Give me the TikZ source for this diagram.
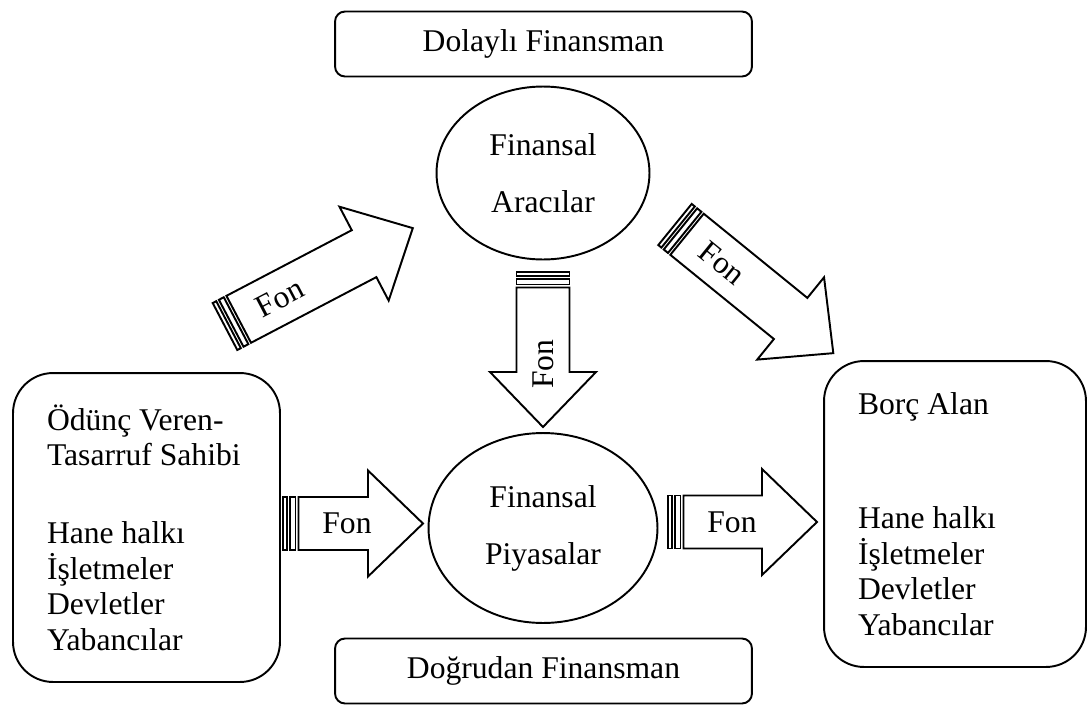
\documentclass[tikz,border=0pt]{standalone}
\usepackage{fontspec}
\setmainfont{Liberation Serif}
\usetikzlibrary{shapes.geometric}

\tikzset{
    linie/.style={line width=1.1pt},
    kasten/.style={draw, linie, rounded corners=0.2cm, minimum width=8.34cm, minimum height=1.3cm},
    seite/.style={draw, linie, rounded corners=0.8cm, align=flush left, inner sep=0pt},
    kreis/.style={draw, linie, ellipse, align=center, inner sep=0pt, font=\fontsize{18}{32.4}\selectfont},
    fonpfeil/.style={draw, linie, fill=white, line join=miter}
}

% gestreifter Blockpfeil: Name, Schwanz, Winkel, Laenge, Textposition, Textwinkel
\newcommand{\fonok}[6]{%
    \begin{scope}[shift={#2}, rotate=#3]
        \draw[fonpfeil] (0,-26.5) rectangle (4,26.5);
        \draw[fonpfeil] (7,-26.5) rectangle (12.5,26.5);
        \draw[fonpfeil] (15.5,-26.5) -- ({#4-55},-26.5) -- ({#4-55},-53)
            -- (#4,0) -- ({#4-55},53) -- ({#4-55},26.5) -- (15.5,26.5) -- cycle;
        \node[rotate=#6] (#1) at (#5,0) {Fon};
    \end{scope}}

\begin{document}
\begin{tikzpicture}[x=0.02cm, y=-0.02cm, font=\fontsize{18}{20.2}\selectfont]
        \useasboundingbox (0,0) rectangle (1089,707);

        % Kaesten oben und unten
        \node[kasten] (dolayli) at (543.5,44) {Dolaylı Finansman};
        \node[kasten] (dogrudan) at (543.5,671) {Doğrudan Finansman};

        % Ellipsen
        \node[kreis, minimum width=4.26cm, minimum height=3.46cm] (aracilar) at (543,173) {Finansal\\Aracılar};
        \node[kreis, minimum width=4.58cm, minimum height=3.8cm] (piyasalar) at (543,528) {Finansal\\Piyasalar};

        % Seiten
        \node[seite, minimum width=5.34cm, minimum height=6.18cm, text width=3.98cm] (veren) at (146.5,527.5)
            {Ödünç Veren-\\Tasarruf Sahibi\\[0.85cm]Hane halkı\\İşletmeler\\Devletler\\Yabancılar};
        \node[seite, minimum width=5.24cm, minimum height=6.12cm, text width=3.88cm] (alan) at (955,514)
            {Borç Alan\\[1.57cm]Hane halkı\\İşletmeler\\Devletler\\Yabancılar};

        % Pfeile
        \fonok{fonA}{(225,326.5)}{27.65}{212}{62}{27.65}
        \fonok{fonB}{(675,224.5)}{-39.1}{204}{61}{-39.1}
        \fonok{fonC}{(543,272)}{-90}{155}{92}{90}
        \fonok{fonD}{(283,523.5)}{0}{140}{64}{0}
        \fonok{fonE}{(668,522)}{0}{149}{64}{0}

    \end{tikzpicture}
\end{document}
